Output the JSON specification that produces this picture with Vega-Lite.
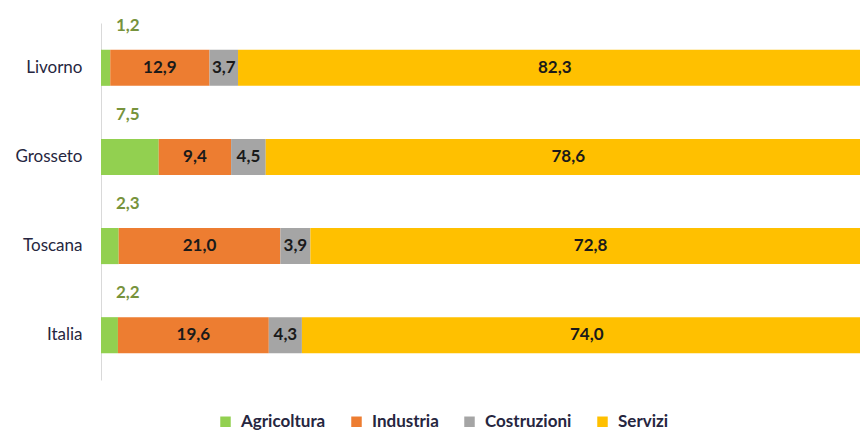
{
  "$schema": "https://vega.github.io/schema/vega-lite/v6.json",
  "autosize": {"type": "none"},
  "padding": {"left": 101, "top": 23, "right": 0, "bottom": 52},
  "width": 759,
  "height": 357,
  "background": "white",
  "config": {
    "view": {"stroke": null},
    "font": "Lato",
    "locale": {"number": {"decimal": ",", "thousands": ".", "grouping": [3], "currency": ["€", ""]}}
  },
  "data": {
    "values": [
      {"region": "Livorno", "cat": "Agricoltura", "value": 1.2, "order": 1},
      {"region": "Livorno", "cat": "Industria", "value": 12.9, "order": 2},
      {"region": "Livorno", "cat": "Costruzioni", "value": 3.7, "order": 3},
      {"region": "Livorno", "cat": "Servizi", "value": 82.3, "order": 4},
      {"region": "Grosseto", "cat": "Agricoltura", "value": 7.5, "order": 1},
      {"region": "Grosseto", "cat": "Industria", "value": 9.4, "order": 2},
      {"region": "Grosseto", "cat": "Costruzioni", "value": 4.5, "order": 3},
      {"region": "Grosseto", "cat": "Servizi", "value": 78.6, "order": 4},
      {"region": "Toscana", "cat": "Agricoltura", "value": 2.3, "order": 1},
      {"region": "Toscana", "cat": "Industria", "value": 21.0, "order": 2},
      {"region": "Toscana", "cat": "Costruzioni", "value": 3.9, "order": 3},
      {"region": "Toscana", "cat": "Servizi", "value": 72.8, "order": 4},
      {"region": "Italia", "cat": "Agricoltura", "value": 2.2, "order": 1},
      {"region": "Italia", "cat": "Industria", "value": 19.6, "order": 2},
      {"region": "Italia", "cat": "Costruzioni", "value": 4.3, "order": 3},
      {"region": "Italia", "cat": "Servizi", "value": 74.0, "order": 4}
    ]
  },
  "transform": [
    {"stack": "value", "groupby": ["region"], "sort": [{"field": "order", "order": "ascending"}], "as": ["x0", "x1"]},
    {"calculate": "(datum.x0 + datum.x1) / 2", "as": "mid"}
  ],
  "encoding": {
    "y": {
      "field": "region", "type": "nominal",
      "sort": ["Livorno", "Grosseto", "Toscana", "Italia"],
      "scale": {"paddingInner": 0.595, "paddingOuter": 0.3},
      "axis": {"title": null, "ticks": false, "labelPadding": 19, "labelFontSize": 17, "labelColor": "#262640", "labelFont": "Lato", "domainColor": "#D9D9D9", "domainWidth": 1}
    }
  },
  "layer": [
    {
      "mark": {"type": "bar", "clip": true},
      "encoding": {
        "x": {"field": "x0", "type": "quantitative", "scale": {"domain": [0, 98.6], "nice": false, "zero": true}, "axis": null},
        "x2": {"field": "x1"},
        "color": {
          "field": "cat", "type": "nominal",
          "scale": {"domain": ["Agricoltura", "Industria", "Costruzioni", "Servizi"], "range": ["#92D050", "#ED7D31", "#A5A5A5", "#FFC000"]},
          "legend": {
            "title": null, "orient": "none", "direction": "horizontal",
            "legendX": 116, "legendY": 390,
            "symbolType": "square", "symbolSize": 110, "symbolStrokeWidth": 0,
            "labelFontSize": 17, "labelFontWeight": "bold", "labelColor": "#262640",
            "columnPadding": 22, "symbolOffset": 0, "labelOffset": 7
          }
        }
      }
    },
    {
      "transform": [{"filter": "datum.cat != 'Agricoltura'"}],
      "mark": {"type": "text", "fontSize": 17, "fontWeight": "bold", "color": "#1a1a1a", "clip": true},
      "encoding": {
        "x": {"field": "mid", "type": "quantitative"},
        "text": {"field": "value", "type": "quantitative", "format": ".1f"}
      }
    },
    {
      "transform": [{"filter": "datum.cat == 'Agricoltura'"}],
      "mark": {"type": "text", "fontSize": 17, "fontWeight": "bold", "color": "#77933C", "align": "left", "dx": 15, "dy": -42},
      "encoding": {
        "x": {"datum": 0, "type": "quantitative"},
        "text": {"field": "value", "type": "quantitative", "format": ".1f"}
      }
    }
  ]
}
